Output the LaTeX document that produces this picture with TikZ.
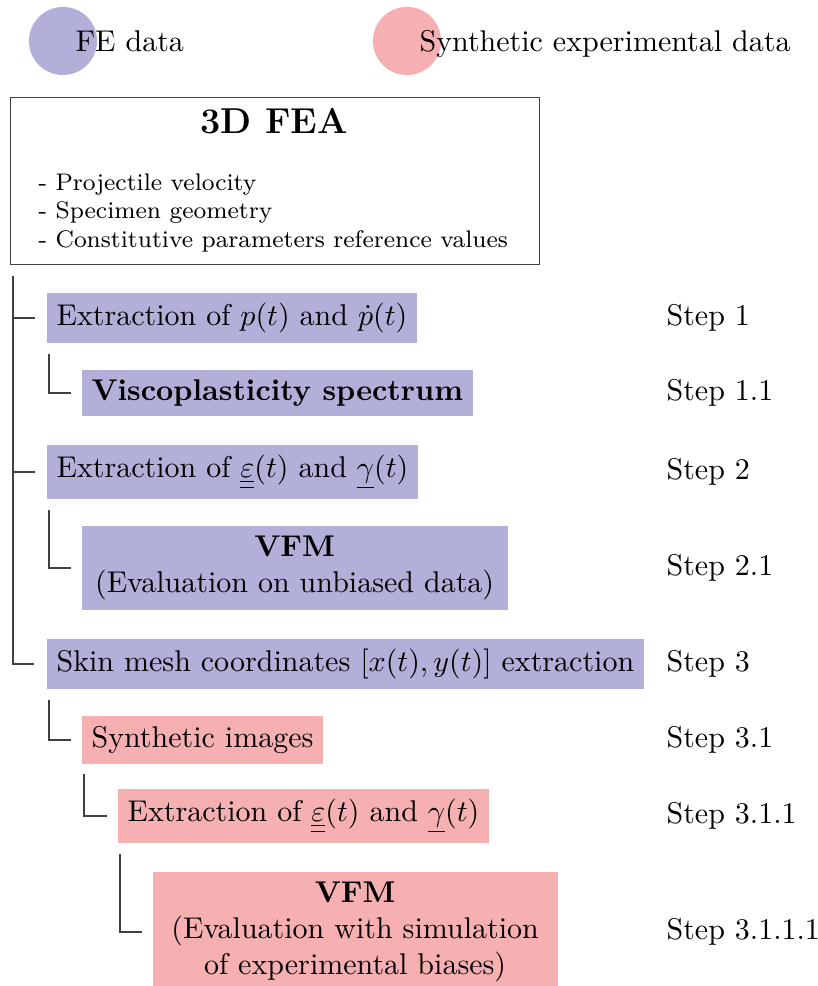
\documentclass[tikz,border=0pt]{standalone}
\usepackage{amssymb}
\usepackage{amsmath}
\usepackage{tikz}
\definecolor{feblue}{RGB}{178,176,216}
\definecolor{synpink}{RGB}{246,176,178}

\begin{document}
\begin{tikzpicture}[x=0.33333pt, y=-0.33333pt,
		fe/.style={fill=feblue, anchor=west, inner sep=3.33pt, align=center},
		syn/.style={fill=synpink, anchor=west, inner sep=3.33pt, align=center},
		legdot/.style={circle, minimum size=22.7pt, inner sep=0pt},
		legtext/.style={anchor=base west, inner sep=0pt},
		stepname/.style={anchor=west, inner sep=0pt},
		branch/.style={draw=black!75, line width=0.4pt}]
		\useasboundingbox (0,0) rectangle (818,986);
		
		% legend
		\node[legdot, fill=feblue] (fedot) at (63,41) {};
		\node[legtext] (felabel) at (75,52) {FE data};
		\node[legdot, fill=synpink] (syndot) at (407,41) {};
		\node[legtext] (synlabel) at (419,52) {Synthetic experimental data};
		
		% FEA box
		\node[draw=black!75, minimum width=176.3pt, minimum height=55.7pt, anchor=north west] (fea) at (10,97) {};
		\node[font=\large\bfseries] (title) at (274,121) {3D FEA};
		\node[font=\footnotesize, align=left, anchor=north west, inner sep=0pt] (inputs) at (38,173)
			{- Projectile velocity\\- Specimen geometry\\- Constitutive parameters reference values};
		
		\node[fe] (ext1) at (46,318) {Extraction of $p(t)$ and $\dot{p}(t)$};
		\node[fe, font=\bfseries] (visco) at (81,393) {Viscoplasticity spectrum};
		\node[fe] (ext2) at (46,472) {Extraction of $\underline{\underline{\varepsilon}}(t)$ and $\underline{\gamma}(t)$};
		\node[fe, minimum width=142pt] (vfm1) at (81,568) {\textbf{VFM}\\(Evaluation on unbiased data)};
		\node[fe] (skin) at (46,664) {Skin mesh coordinates $[x(t),y(t)]$ extraction};
		\node[syn] (synimg) at (81,740) {Synthetic images};
		\node[syn] (ext3) at (117,816) {Extraction of $\underline{\underline{\varepsilon}}(t)$ and $\underline{\gamma}(t)$};
		\node[syn, minimum width=135pt] (vfm2) at (152,932) {\textbf{VFM}\\(Evaluation with simulation\\of experimental biases)};
		
		% tree lines
		\coordinate (trunk) at ([shift={(3,11)}]fea.south west);
		\draw[branch] (trunk) |- ([shift={(-12,0)}]skin.west);
		\foreach \b in {ext1, ext2}
			\draw[branch] (trunk |- \b.west) -- ([shift={(-11,0)}]\b.west);
		\foreach \a/\b in {ext1/visco, ext2/vfm1, skin/synimg, synimg/ext3, ext3/vfm2}
			\draw[branch] ([shift={(3,10)}]\a.south west) |- ([shift={(-10,0)}]\b.west);
		
		% steps
		\coordinate (stepcol) at (666,0);
		\foreach \n/\s in {ext1/1, visco/1.1, ext2/2, vfm1/2.1, skin/3, synimg/3.1, ext3/3.1.1, vfm2/3.1.1.1}
			\node[stepname] (step-\n) at (\n.west -| stepcol) {Step \s};
	\end{tikzpicture}
\end{document}
